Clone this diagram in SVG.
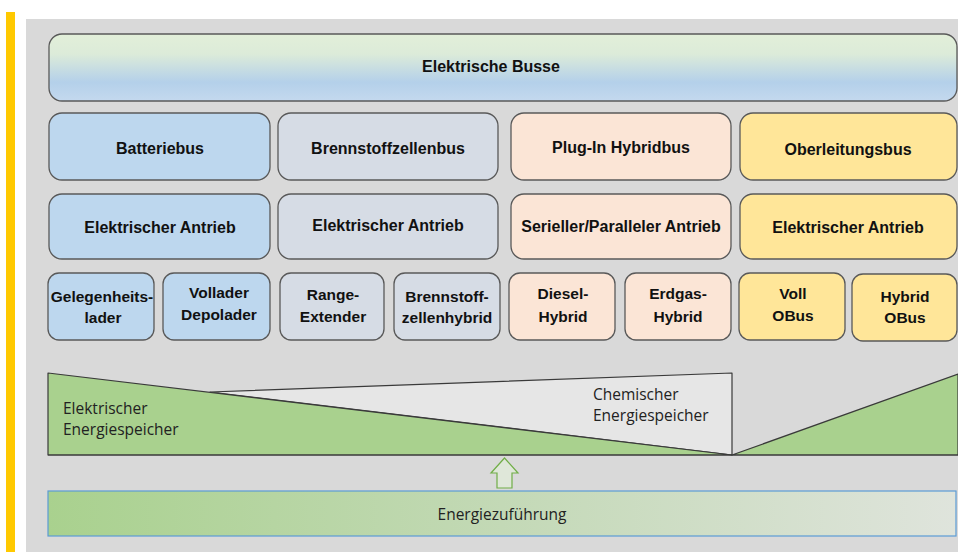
<svg xmlns="http://www.w3.org/2000/svg" width="958" height="552" viewBox="0 0 958 552">
<defs>
<linearGradient id="gTop" x1="0" y1="0" x2="0" y2="1">
<stop offset="0" stop-color="#e2efd9"/>
<stop offset="0.3" stop-color="#dcebd9"/>
<stop offset="0.72" stop-color="#b4d0ea"/>
<stop offset="1" stop-color="#c4d9ee"/>
</linearGradient>
<linearGradient id="gBot" x1="0" y1="0" x2="1" y2="0">
<stop offset="0" stop-color="#a9d18e"/>
<stop offset="0.5" stop-color="#c3d9b6"/>
<stop offset="1" stop-color="#dfe4dc"/>
</linearGradient>
<style>
.box{stroke:#595959;stroke-width:1.3}
.blue{fill:#bdd7ee}
.grey{fill:#d6dce5}
.peach{fill:#fbe5d6}
.yel{fill:#ffe699}
.t{font-family:"Liberation Sans",Arial,sans-serif;font-weight:bold;font-size:16px;fill:#111;text-anchor:middle}
.s{font-size:15.5px}
.n{font-family:"Open Sans","Liberation Sans",sans-serif;font-size:15.5px;fill:#222}
.tri{stroke:#3a3a3a;stroke-width:1.2;stroke-linejoin:round}
</style>
</defs>
<rect x="0" y="0" width="958" height="552" fill="#ffffff"/>
<rect x="6" y="12" width="9" height="540" fill="#ffc900"/>
<rect x="26" y="19" width="932" height="533" fill="#d9d9d9"/>

<g id="elektrische-busse">
<rect x="49" y="34" width="908" height="67" rx="13" fill="url(#gTop)" class="box"/>
<text class="t" x="491" y="72">Elektrische Busse</text>
</g>

<g id="batteriebus"><rect class="box blue" x="49" y="113" width="221" height="67" rx="13"/><text class="t" x="160" y="154">Batteriebus</text></g>
<g id="brennstoffzellenbus"><rect class="box grey" x="278" y="113" width="220" height="67" rx="13"/><text class="t" x="388" y="154">Brennstoffzellenbus</text></g>
<g id="plugin"><rect class="box peach" x="511" y="113" width="220" height="67" rx="13"/><text class="t" x="621" y="153">Plug-In Hybridbus</text></g>
<g id="oberleitungsbus"><rect class="box yel" x="740" y="113" width="217" height="67" rx="13"/><text class="t" x="848" y="155">Oberleitungsbus</text></g>

<g id="antrieb1"><rect class="box blue" x="49" y="194" width="221" height="65" rx="13"/><text class="t" x="160" y="233">Elektrischer Antrieb</text></g>
<g id="antrieb2"><rect class="box grey" x="278" y="194" width="220" height="65" rx="13"/><text class="t" x="388" y="231">Elektrischer Antrieb</text></g>
<g id="antrieb3"><rect class="box peach" x="511" y="194" width="220" height="65" rx="13"/><text class="t" x="621" y="232">Serieller/Paralleler Antrieb</text></g>
<g id="antrieb4"><rect class="box yel" x="740" y="194" width="217" height="65" rx="13"/><text class="t" x="848" y="233">Elektrischer Antrieb</text></g>

<g id="gelegenheitslader"><rect class="box blue" x="48" y="273" width="106" height="67" rx="11"/><text class="t s" x="102" y="302">Gelegenheits-</text><text class="t s" x="103" y="323">lader</text></g>
<g id="volllader"><rect class="box blue" x="163" y="273" width="107" height="67" rx="11"/><text class="t s" x="219" y="298">Vollader</text><text class="t s" x="219" y="320">Depolader</text></g>
<g id="range"><rect class="box grey" x="280" y="273" width="104" height="67" rx="11"/><text class="t s" x="333" y="300">Range-</text><text class="t s" x="333" y="322">Extender</text></g>
<g id="bzhybrid"><rect class="box grey" x="394" y="273" width="106" height="67" rx="11"/><text class="t s" x="447" y="302">Brennstoff-</text><text class="t s" x="447" y="323">zellenhybrid</text></g>
<g id="diesel"><rect class="box peach" x="509" y="273" width="106" height="67" rx="11"/><text class="t s" x="563" y="299">Diesel-</text><text class="t s" x="563" y="322">Hybrid</text></g>
<g id="erdgas"><rect class="box peach" x="625" y="273" width="106" height="67" rx="11"/><text class="t s" x="678" y="299">Erdgas-</text><text class="t s" x="678" y="322">Hybrid</text></g>
<g id="vollobus"><rect class="box yel" x="739" y="273" width="106" height="67" rx="11"/><text class="t s" x="793" y="299">Voll</text><text class="t s" x="793" y="321">OBus</text></g>
<g id="hybridobus"><rect class="box yel" x="852" y="274" width="105" height="67" rx="11"/><text class="t s" x="905" y="302">Hybrid</text><text class="t s" x="905" y="323">OBus</text></g>

<g id="speicher">
<polygon class="tri" points="210,392 732,373 732,455" fill="#e6e6e6"/>
<polygon class="tri" points="48,373 732,455 48,455" fill="#a9d18e"/>
<polygon class="tri" points="732,455 958,374 958,455" fill="#a9d18e"/>
<line x1="48" y1="455" x2="958" y2="455" stroke="#3a3a3a" stroke-width="1.2"/>
<text class="n" x="63" y="414">Elektrischer</text>
<text class="n" x="63" y="435">Energiespeicher</text>
<text class="n" x="593" y="400">Chemischer</text>
<text class="n" x="593" y="421">Energiespeicher</text>
</g>

<g id="connectors">
<polygon points="504.5,458 518,473 512,473 512,488 497,488 497,473 491,473" fill="#dfe7d9" stroke="#70ad47" stroke-width="1.2" stroke-linejoin="miter"/>
</g>

<g id="energiezufuehrung">
<rect x="48" y="491" width="908" height="45" fill="url(#gBot)" stroke="#5b9bd5" stroke-width="1.2"/>
<text class="n" x="502" y="520" text-anchor="middle">Energiezuführung</text>
</g>
</svg>
